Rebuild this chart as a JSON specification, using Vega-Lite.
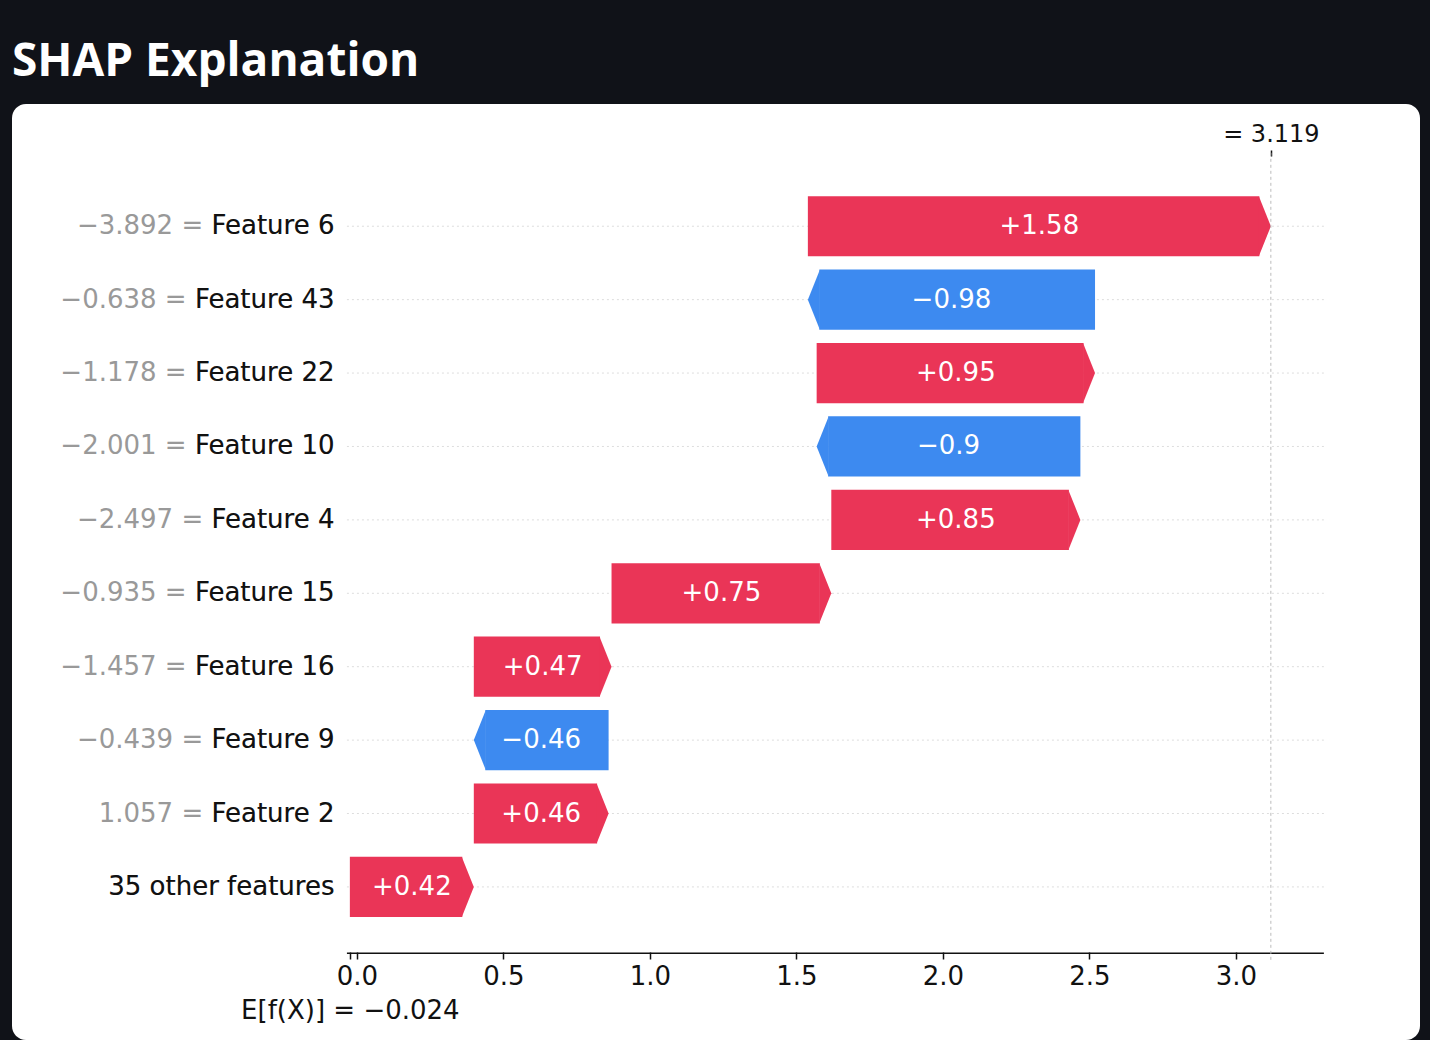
{
  "$schema": "https://vega.github.io/schema/vega-lite/v6.json",
  "width": 1408,
  "height": 936,
  "padding": {"left": 12, "top": 39, "right": 10, "bottom": 0},
  "autosize": {"type": "pad"},
  "background": "#101218",
  "title": {"text": "SHAP Explanation", "anchor": "start", "color": "white", "font": "Open Sans", "fontWeight": "bold", "fontSize": 46, "offset": 18},
  "config": {"view": {"fill": "white", "cornerRadius": 14, "stroke": null}},
  "data": {"values": [
    {"label": "−3.892 = Feature 6", "start": 1.539, "end": 3.119, "shap": "+1.58", "sign": "pos"},
    {"label": "−0.638 = Feature 43", "start": 2.519, "end": 1.539, "shap": "−0.98", "sign": "neg"},
    {"label": "−1.178 = Feature 22", "start": 1.569, "end": 2.519, "shap": "+0.95", "sign": "pos"},
    {"label": "−2.001 = Feature 10", "start": 2.469, "end": 1.569, "shap": "−0.9", "sign": "neg"},
    {"label": "−2.497 = Feature 4", "start": 1.619, "end": 2.469, "shap": "+0.85", "sign": "pos"},
    {"label": "−0.935 = Feature 15", "start": 0.869, "end": 1.619, "shap": "+0.75", "sign": "pos"},
    {"label": "−1.457 = Feature 16", "start": 0.399, "end": 0.869, "shap": "+0.47", "sign": "pos"},
    {"label": "−0.439 = Feature 9", "start": 0.859, "end": 0.399, "shap": "−0.46", "sign": "neg"},
    {"label": "1.057 = Feature 2", "start": 0.399, "end": 0.859, "shap": "+0.46", "sign": "pos"},
    {"label": "35 other features", "start": -0.024, "end": 0.399, "shap": "+0.42", "sign": "pos"}
  ]},
  "transform": [{"calculate": "(datum.start + datum.end) / 2", "as": "mid"}],
  "layer": [
    {
      "mark": {"type": "rule", "color": "#dddddd", "strokeDash": [2, 3], "strokeWidth": 1},
      "encoding": {
        "y": {"field": "label", "type": "nominal",
          "scale": {"type": "band", "domain": ["_t", "−3.892 = Feature 6", "−0.638 = Feature 43", "−1.178 = Feature 22", "−2.001 = Feature 10", "−2.497 = Feature 4", "−0.935 = Feature 15", "−1.457 = Feature 16", "−0.439 = Feature 9", "1.057 = Feature 2", "35 other features", "_b"], "paddingInner": 0, "paddingOuter": 0.375, "align": 0.22},
          "axis": {"orient": "left", "offset": -330, "domain": false, "ticks": false, "labelPadding": 8, "labelLimit": 0, "labelOverlap": false, "title": null, "labelFont": "DejaVu Sans", "labelFontSize": 26, "labelColor": "#999999", "labelExpr": "indexof(datum.value,'_')==0 ? '' : datum.value"}},
        "x": {"datum": -0.034, "type": "quantitative", "scale": {"domain": [-1.177, 3.628], "nice": false, "zero": false}, "axis": null},
        "x2": {"datum": 3.3}
      }
    },
    {
      "transform": [{"filter": "datum.sign == 'pos'"}],
      "mark": {"type": "bar", "color": "#ea3557", "x2Offset": -11.5, "height": {"band": 0.82}},
      "encoding": {
        "y": {"field": "label", "type": "nominal",
          "axis": {"orient": "left", "offset": -330, "domain": false, "ticks": false, "labelPadding": 8, "labelLimit": 0, "labelOverlap": false, "title": null, "labelFont": "DejaVu Sans", "labelFontSize": 26, "labelColor": "#111111", "labelExpr": "indexof(datum.value,'_')==0 ? '' : peek(split(datum.value,' = '))"}},
        "x": {"field": "start", "type": "quantitative",
          "axis": {"orient": "bottom", "offset": -88, "domain": false, "grid": false, "title": null, "values": [-0.024, 0, 0.5, 1, 1.5, 2, 2.5, 3], "labelOverlap": false, "labelLimit": 0, "tickColor": "#111111", "tickSize": 7, "tickWidth": 1.5, "labelFont": "DejaVu Sans", "labelFontSize": 26, "labelColor": "#111111", "labelPadding": 4, "labelLineHeight": 34, "labelExpr": "datum.value < 0 ? ['', 'E[f(X)] = −0.024'] : format(datum.value, '.1f')"}},
        "x2": {"field": "end"}
      }
    },
    {
      "transform": [{"filter": "datum.sign == 'pos'"}],
      "mark": {"type": "point", "filled": true, "opacity": 1, "color": "#ea3557", "size": 3600, "strokeWidth": 0, "shape": "M0,0L-0.4,-1L-0.4,1Z"},
      "encoding": {"y": {"field": "label", "type": "nominal", "axis": null}, "x": {"field": "end", "type": "quantitative", "axis": null}}
    },
    {
      "transform": [{"filter": "datum.sign == 'neg'"}],
      "mark": {"type": "bar", "color": "#3d8af0", "x2Offset": 11.5, "height": {"band": 0.82}},
      "encoding": {"y": {"field": "label", "type": "nominal", "axis": null}, "x": {"field": "start", "type": "quantitative", "axis": null}, "x2": {"field": "end"}}
    },
    {
      "transform": [{"filter": "datum.sign == 'neg'"}],
      "mark": {"type": "point", "filled": true, "opacity": 1, "color": "#3d8af0", "size": 3600, "strokeWidth": 0, "shape": "M0,0L0.4,-1L0.4,1Z"},
      "encoding": {"y": {"field": "label", "type": "nominal", "axis": null}, "x": {"field": "end", "type": "quantitative", "axis": null}}
    },
    {
      "mark": {"type": "text", "color": "white", "font": "DejaVu Sans", "fontSize": 26, "align": "center", "baseline": "middle"},
      "encoding": {"y": {"field": "label", "type": "nominal", "axis": null}, "x": {"field": "mid", "type": "quantitative", "axis": null}, "text": {"field": "shap"}}
    },
    {
      "transform": [{"filter": "datum.label == '35 other features'"}],
      "mark": {"type": "rule", "color": "#111111", "strokeWidth": 1.5, "yOffset": -7},
      "encoding": {"y": {"datum": "_b", "type": "nominal", "axis": null}, "x": {"datum": -0.034, "type": "quantitative", "axis": null}, "x2": {"datum": 3.3}}
    },
    {
      "transform": [{"filter": "datum.label == '35 other features'"}],
      "mark": {"type": "rule", "color": "#bbbbbb", "strokeDash": [3, 3], "strokeWidth": 1},
      "encoding": {
        "y": {"datum": "_t", "type": "nominal", "axis": null}, "y2": {"datum": "_b"},
        "x": {"datum": 3.119, "type": "quantitative",
          "axis": {"orient": "top", "offset": -52, "domain": false, "grid": false, "title": null, "values": [3.119], "tickColor": "#111111", "tickSize": 6, "tickWidth": 1.5, "labelFont": "DejaVu Sans", "labelFontSize": 24, "labelColor": "#111111", "labelPadding": 4, "labelExpr": "'= 3.119'"}}
      }
    }
  ],
  "resolve": {"axis": {"x": "independent", "y": "independent"}}
}
